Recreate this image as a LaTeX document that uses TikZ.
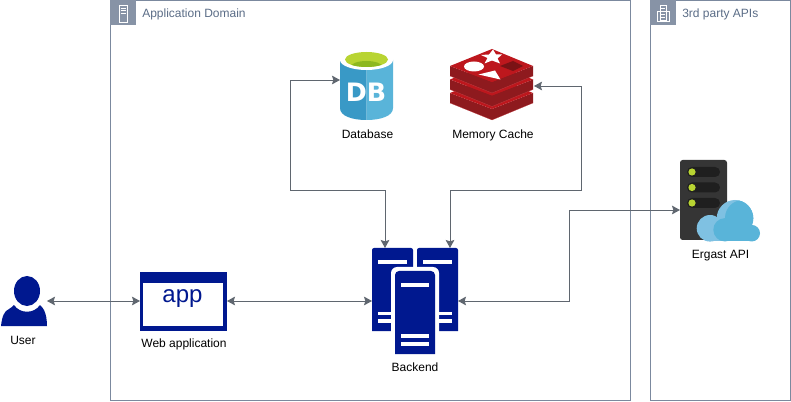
\documentclass[tikz,border=0pt]{standalone}
\usepackage{fontspec}
\setmainfont{Liberation Sans}
\newfontfamily\logofont{DejaVu Sans}
\usetikzlibrary{arrows.meta}

\definecolor{navy}{HTML}{00188F}
\definecolor{slate}{HTML}{5A6C86}
\definecolor{tabgray}{HTML}{8793A6}
\definecolor{linkgray}{HTML}{5F666F}
\definecolor{dbleft}{HTML}{3999C6}
\definecolor{dbright}{HTML}{59B4D9}
\definecolor{limetop}{HTML}{B8D432}
\definecolor{limein}{HTML}{8DB81F}
\definecolor{redtop}{HTML}{BD171D}
\definecolor{redside}{HTML}{8E1A1E}
\definecolor{reddark}{HTML}{7A1215}
\definecolor{rack}{HTML}{353535}
\definecolor{slot}{HTML}{1F1F1F}
\definecolor{cloudlight}{HTML}{7FC1E2}

\tikzset{
	link/.style={draw=linkgray, line width=0.7pt, {Stealth[length=6pt,width=6.5pt,inset=1pt]}-{Stealth[length=6pt,width=6.5pt,inset=1pt]}},
	iconbox/.style={inner sep=0pt, outer sep=0pt, minimum width=#1},
	caption/.style={font=\fontsize{9}{11}\selectfont, text=black, inner sep=0pt, text height=7pt, text depth=2pt},
	grouptitle/.style={font=\fontsize{9}{11}\selectfont, text=slate, inner sep=0pt, anchor=west},
	groupbox/.style={draw=slate!80, line width=0.6pt},
	tabline/.style={draw=white, line width=0.45pt}
}

\begin{document}
\begin{tikzpicture}[x=0.75pt,y=-0.75pt]
	\useasboundingbox (0,0) rectangle (791,402);

	% Groups
	\draw[groupbox] (110.5,0.5) rectangle (630.5,400.5);
	\fill[tabgray] (110,0) rectangle (136,25);
	\node[grouptitle] (appdomain) at (142,14) {Application Domain};
	\draw[groupbox] (650.5,0.5) rectangle (790.5,400.5);
	\fill[tabgray] (650,0) rectangle (676,25);
	\node[grouptitle] (thirdparty) at (682,14) {3rd party APIs};

	% tab icons
	\draw[tabline] (119,5) rectangle (127,22);
	\draw[tabline] (120.5,8) -- (125.5,8);
	\draw[tabline] (120.5,10.5) -- (125.5,10.5);
	\draw[tabline] (120.5,13) -- (125.5,13);
	\draw[tabline] (660,5) rectangle (666,20);
	\draw[tabline] (657,11) rectangle (669,21);
	\foreach \y in {8,11,14,17} {
		\draw[tabline] (661,\y) -- (665,\y);
	}

	% Anchors of the icons
	\node[iconbox=34.5pt, minimum height=37.5pt] (user) at (24,301) {};
	\node[iconbox=65.25pt, minimum height=44.25pt] (webapp) at (183.5,301) {};
	\node[iconbox=64.5pt, minimum height=79.5pt] (backend) at (415,301) {};
	\node[iconbox=39.75pt, minimum height=51.75pt] (database) at (366.5,85.5) {};
	\node[iconbox=63pt, minimum height=53.25pt] (cache) at (492,84.5) {};
	\node[iconbox=60pt, minimum height=60pt] (ergast) at (720,200) {};

	% User
	\fill[navy] (27,291) ellipse [x radius=13, y radius=15];
	\fill[navy] (1,326) .. controls (2,317) and (4,311) .. (9,309)
		.. controls (11,308) and (13,306) .. (14,305)
		.. controls (20,314) and (34,314) .. (40,305)
		.. controls (41,306) and (43,308) .. (44,310)
		.. controls (46,314) and (47,320) .. (47,326) -- cycle;
	\node[caption] (userlabel) at (23,340.7) {User};

	% Web application
	\fill[navy] (140,272) rectangle (227,331);
	\fill[white] (143,283) rectangle (223,326);
	\node[inner sep=0pt, text=navy, font=\fontsize{18}{20}\selectfont] (applabel) at (182.5,299) {app};
	\node[caption] (webapplabel) at (184,343.7) {Web application};

	% Backend
	\fill[navy] (372,250) arc (180:270:2) -- (411,248) arc (-90:0:2) -- (413,331) -- (372,331) -- cycle;
	\fill[navy] (417,250) arc (180:270:2) -- (456,248) arc (-90:0:2) -- (458,331) -- (417,331) -- cycle;
	\fill[white] (391,358) -- (391,273) arc (180:270:6) -- (433,267) arc (-90:0:6) -- (439,358) -- cycle;
	\fill[navy] (395,354) -- (395,275) arc (180:270:4) -- (431,271) arc (-90:0:4) -- (435,354) -- cycle;
	\fill[white] (378,260) rectangle (407,264);
	\fill[white] (378,312) rectangle (391,315);
	\fill[white] (378,319) rectangle (391,323);
	\fill[white] (423,260) rectangle (452,264);
	\fill[white] (439,312) rectangle (452,315);
	\fill[white] (439,319) rectangle (452,323);
	\fill[white] (401,283) rectangle (429,287);
	\fill[white] (401,334) rectangle (429,338);
	\fill[white] (401,342) rectangle (429,346);
	\node[caption] (backendlabel) at (415,368.4) {Backend};

	% Database
	\fill[dbleft] (340,60) -- (366.5,60) -- (366.5,120) .. controls (352,120) and (340,116) .. (340,108) -- cycle;
	\fill[dbright] (366.5,60) -- (393,60) -- (393,108) .. controls (393,116) and (381,120) .. (366.5,120) -- cycle;
	\fill[white] (366.5,60) ellipse [x radius=26.5, y radius=10];
	\fill[limetop] (366.5,59.5) ellipse [x radius=21.5, y radius=7.5];
	\begin{scope}
		\clip (366.5,59.5) ellipse [x radius=21.5, y radius=7.5];
		\fill[limein] (366.5,67) ellipse [x radius=16, y radius=6];
	\end{scope}
	\node[inner sep=0pt, text=white, font=\fontsize{19}{21}\selectfont\logofont\bfseries] (dblogo) at (366,92.5) {DB};
	\node[caption] (databaselabel) at (367.5,134.7) {Database};

	% Memory cache, bottom layer first
	\foreach \d in {27,13.5,0} {
		\fill[redside] (450,66+\d) -- (492,82+\d) -- (533,66+\d) -- (533,76+\d) -- (492,93+\d) -- (450,76+\d) -- cycle;
		\fill[redtop] (450,66+\d) -- (492,49+\d) -- (533,66+\d) -- (492,82+\d) -- cycle;
		\draw[redtop!80!white, line width=0.15pt] (450,76+\d) -- (492,93+\d) -- (533,76+\d);
	}
	\fill[white] (474,66.5) ellipse [x radius=10, y radius=5];
	\fill[white] (493,49.5) -- (496,54.5) -- (502,54.5) -- (497.5,58.5) -- (500,63.5) -- (492,60.5) -- (484.5,63.5) -- (487.5,58) -- (481,55) -- (489,54.5) -- cycle;
	\fill[white] (478.5,74.5) -- (495,70.5) -- (500.5,79.5) -- cycle;
	\fill[reddark] (500,66) -- (513,61) -- (523,66) -- (513,71) -- cycle;
	\node[caption] (cachelabel) at (493,134.7) {Memory Cache};

	% Ergast API
	\fill[rack, rounded corners=2pt] (680,160) rectangle (727,240);
	\foreach \y in {172,187.5,203} {
		\fill[slot, rounded corners=3.7pt] (687,\y-5) rectangle (720,\y+5);
		\fill[limetop] (692,\y) circle (3.6);
	}
	% cloud
	\fill[cloudlight] (710,228.3) circle (13.3);
	\fill[cloudlight] (735,218.3) circle (18.3);
	\fill[cloudlight] (710,230) rectangle (730,241.5);
	\begin{scope}
		\clip (735,218.3) circle (18.3);
		\fill[dbright] (743,218) circle (18);
	\end{scope}
	\fill[dbright] (725,229.8) circle (11.7);
	\fill[dbright] (751.7,233.2) circle (8.3);
	\fill[dbright] (725,225) rectangle (752,241.5);
	\node[caption] (ergastlabel) at (720.5,254.7) {Ergast API};

	% Connector ends
	\coordinate (dbport) at (340,80);
	\coordinate (cacheport) at (534,86);
	\coordinate (ergastport) at (680,210);
	\coordinate (backendleft) at (385,248);
	\coordinate (backendright) at (450,248);
	\coordinate (busleft) at (290,190);
	\coordinate (busright) at (581,190);
	\coordinate (busapi) at (569,255);

	% Connectors
	\draw[link] (user.east) -- (webapp.west);
	\draw[link] (webapp.east) -- (backend.west);
	\draw[link] (dbport) -| (busleft) -| (backendleft);
	\draw[link] (cacheport) -| (busright) -| (backendright);
	\draw[link] (backend.east) -| (busapi) |- (ergastport);
\end{tikzpicture}
\end{document}
